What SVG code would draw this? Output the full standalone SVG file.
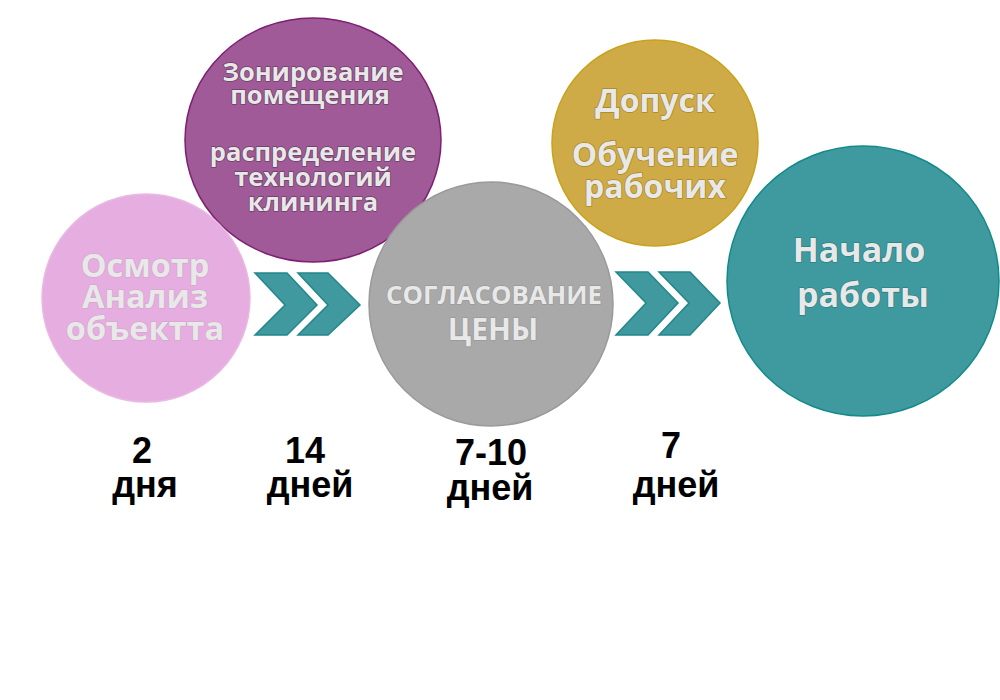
<svg xmlns="http://www.w3.org/2000/svg" width="1000" height="700" viewBox="0 0 1000 700">
<style>
.t{font-family:"Open Sans","Noto Sans","DejaVu Sans",sans-serif;font-weight:bold;fill:#e8e8e8;text-anchor:middle;stroke:#3a2a3a;stroke-opacity:0.55;stroke-width:1.6;paint-order:stroke;stroke-linejoin:round}
.g{stroke:#8a8a8a;stroke-opacity:0.5}
.d{font-family:"Liberation Sans",Arial,sans-serif;font-weight:bold;fill:#000;text-anchor:middle;font-size:36px}
.chev{fill:#3f999e;stroke:#22878b;stroke-width:1.5}
</style>
<rect width="1000" height="700" fill="#fff"/>
<g id="connectors">
<polygon class="chev" points="255,273 287,273 317,305 287,335 255,335 285,305"/>
<polygon class="chev" points="298,273 328,273 360,305 328,335 298,335 328,305"/>
<polygon class="chev" points="616,272 648,272 678,303 648,335 616,335 646,303"/>
<polygon class="chev" points="659,272 690,272 720,303 690,335 659,335 689,303"/>
</g>
<g id="node-zoning">
<ellipse cx="313" cy="140" rx="128" ry="122" fill="#a05a97" stroke="#7d1f73" stroke-width="1.5"/>
<text class="t" font-size="25.5" x="313" y="81">Зонирование</text>
<text class="t" font-size="25.5" x="310" y="104">помещения</text>
<text class="t" font-size="25.5" x="313" y="161">распределение</text>
<text class="t" font-size="25.5" x="313" y="186">технологий</text>
<text class="t" font-size="25.5" x="313" y="211">клининга</text>
</g>
<g id="node-inspection">
<circle cx="146" cy="298" r="104" fill="#e6aee0" stroke="#e9b8e3" stroke-width="1.5"/>
<text class="t" font-size="32.5" x="145" y="277" style="stroke:#c9a0c4">Осмотр</text>
<text class="t" font-size="32.5" x="145" y="308" style="stroke:#c9a0c4">Анализ</text>
<text class="t" font-size="32.5" x="145" y="340" style="stroke:#c9a0c4">объектта</text>
</g>
<g id="node-price">
<circle cx="491" cy="304" r="122" fill="#a9a9a9" stroke="#9a9a9a" stroke-width="1.5"/>
<text class="t g" font-size="25.8" x="494" y="304">СОГЛАСОВАНИЕ</text>
<text class="t g" font-size="30" x="493" y="340">ЦЕНЫ</text>
</g>
<g id="node-access">
<circle cx="655" cy="143" r="103" fill="#cfab47" stroke="#c9a21a" stroke-width="1.5"/>
<text class="t" font-size="32" x="655" y="112" style="stroke:#8a6a10">Допуск</text>
<text class="t" font-size="32" x="655" y="166" style="stroke:#8a6a10">Обучение</text>
<text class="t" font-size="32" x="655" y="198" style="stroke:#8a6a10">рабочих</text>
</g>
<g id="node-start">
<ellipse cx="863" cy="281" rx="136" ry="135" fill="#3f9a9f" stroke="#138a8a" stroke-width="1.5"/>
<text class="t" font-size="34" x="859" y="262" style="stroke:#1a6a6e">Начало</text>
<text class="t" font-size="34" x="863" y="307" style="stroke:#1a6a6e">работы</text>
</g>
<g id="durations">
<text class="d" x="142" y="463">2</text>
<text class="d" x="145" y="497">дня</text>
<text class="d" x="305" y="463">14</text>
<text class="d" x="310" y="497">дней</text>
<text class="d" x="491" y="465">7-10</text>
<text class="d" x="490" y="500">дней</text>
<text class="d" x="671" y="458">7</text>
<text class="d" x="676" y="497">дней</text>
</g>
</svg>
